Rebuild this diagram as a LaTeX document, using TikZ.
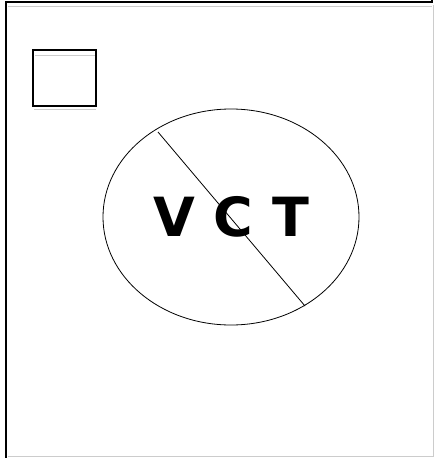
\documentclass[tikz,border=0pt]{standalone}
\usepackage{fontspec}
\setsansfont{DejaVu Sans}
\usetikzlibrary{calc}

\begin{document}
\begin{tikzpicture}[x=1pt, y=-1pt, thick]
    \tikzset{
        frameline/.style={black, line width=2pt},
        shadeline/.style={gray!40, line width=1pt},
        thinline/.style={black, line width=0.8pt}
    }
    % Page size
    \useasboundingbox (0, 0) rectangle (434, 458);

    % Frame
    \coordinate (TL) at (6, 2);
    \coordinate (TR) at (432, 2);
    \coordinate (BL) at (6, 458);
    \draw[shadeline] (8, 6) -- (432, 6);
    \draw[shadeline] (8, 456) -- (434, 456);
    \draw[shadeline] (433, 5) -- (433, 456);
    \draw[frameline] (BL) -- (TL) -- (TR) -- (432, 0);

    % Small box
    \draw[shadeline] (35, 55) -- (95, 55);
    \draw[shadeline] (34, 109) -- (96, 109);
    \draw[frameline, line width=1.4pt] (33, 50) rectangle (96, 106);

    % Ellipse
    \coordinate (C) at (231, 217);
    \draw[thinline] (C) ellipse [x radius=128, y radius=108];

    % Label
    \node[font=\sffamily\bfseries\fontsize{54}{60}\selectfont] (vct) at (C) {V C T};

    % Diagonal
    \coordinate (P) at (158, 132);
    \coordinate (Q) at (305, 306);
    \draw[thinline] (P) -- (Q);
\end{tikzpicture}
\end{document}
